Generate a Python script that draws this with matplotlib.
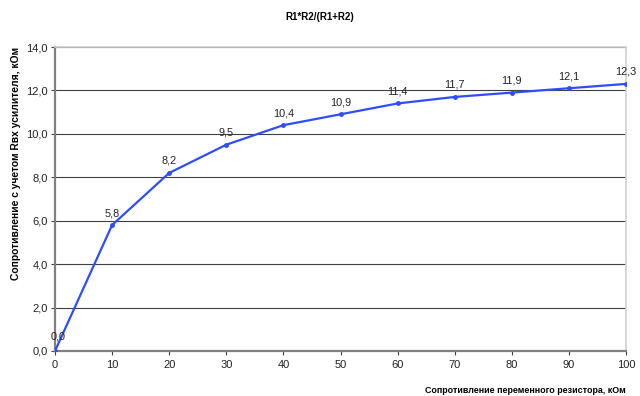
import matplotlib
matplotlib.use("Agg")
import matplotlib.pyplot as plt
from matplotlib.ticker import FuncFormatter, MultipleLocator

plt.rcParams['font.family'] = ['Liberation Sans', 'DejaVu Sans']

x_vals = [0, 10, 20, 30, 40, 50, 60, 70, 80, 90, 100]
y_vals = [0.0, 5.8, 8.2, 9.5, 10.4, 10.9, 11.4, 11.7, 11.9, 12.1, 12.3]
title = "R1*R2/(R1+R2)"
xlabel = "Сопротивление переменного резистора, кОм"
ylabel = "Сопротивление с учетом Rвх усилителя, кОм"

fig = plt.figure(figsize=(6.4, 3.96), dpi=100)
ax = fig.add_axes([55/640, 45/396, 571/640, 304/396])

ax.plot(x_vals, y_vals, color='#2f4cff', lw=1.6, marker='o', markersize=2.5, zorder=3)
for xv, yv in zip(x_vals, y_vals):
    lbl = f"{yv:.1f}".replace('.', ',')
    if xv == 0:
        ax.annotate(lbl, (xv, yv), xytext=(2, 7), textcoords='offset points',
                    ha='center', va='bottom', fontsize=7.8, color='#222222')
    else:
        ax.annotate(lbl, (xv, yv), xytext=(0, 5), textcoords='offset points',
                    ha='center', va='bottom', fontsize=7.8, color='#222222')

ax.set_xlim(0, 100)
ax.set_ylim(0, 14)
ax.xaxis.set_major_locator(MultipleLocator(10))
ax.yaxis.set_major_locator(MultipleLocator(2))
ax.yaxis.set_major_formatter(FuncFormatter(lambda v, p: f"{v:.1f}".replace('.', ',')))
ax.grid(axis='y', color='#404040', lw=0.8)
ax.set_axisbelow(True)
for s in ['top', 'right']:
    ax.spines[s].set_color('#d0d0d0')
    ax.spines[s].set_linewidth(1.2)
for s in ['left', 'bottom']:
    ax.spines[s].set_color('#808080')
    ax.spines[s].set_linewidth(1.6)
ax.tick_params(axis='both', labelsize=8, color='#404040', length=3, width=0.8, labelcolor='#222222')
ax.tick_params(axis='y', pad=2)

fig.text(0.5, 0.958, title, ha='center', va='center', fontsize=7, fontweight='bold')
ax.set_ylabel(ylabel, fontsize=7.4, fontweight='bold')
ax.yaxis.set_label_coords(-0.060, 0.618)
ax.text(1.0, -0.115, xlabel, transform=ax.transAxes, ha='right', va='top',
        fontsize=6.4, fontweight='bold')

fig.savefig("out.png", dpi=100)
